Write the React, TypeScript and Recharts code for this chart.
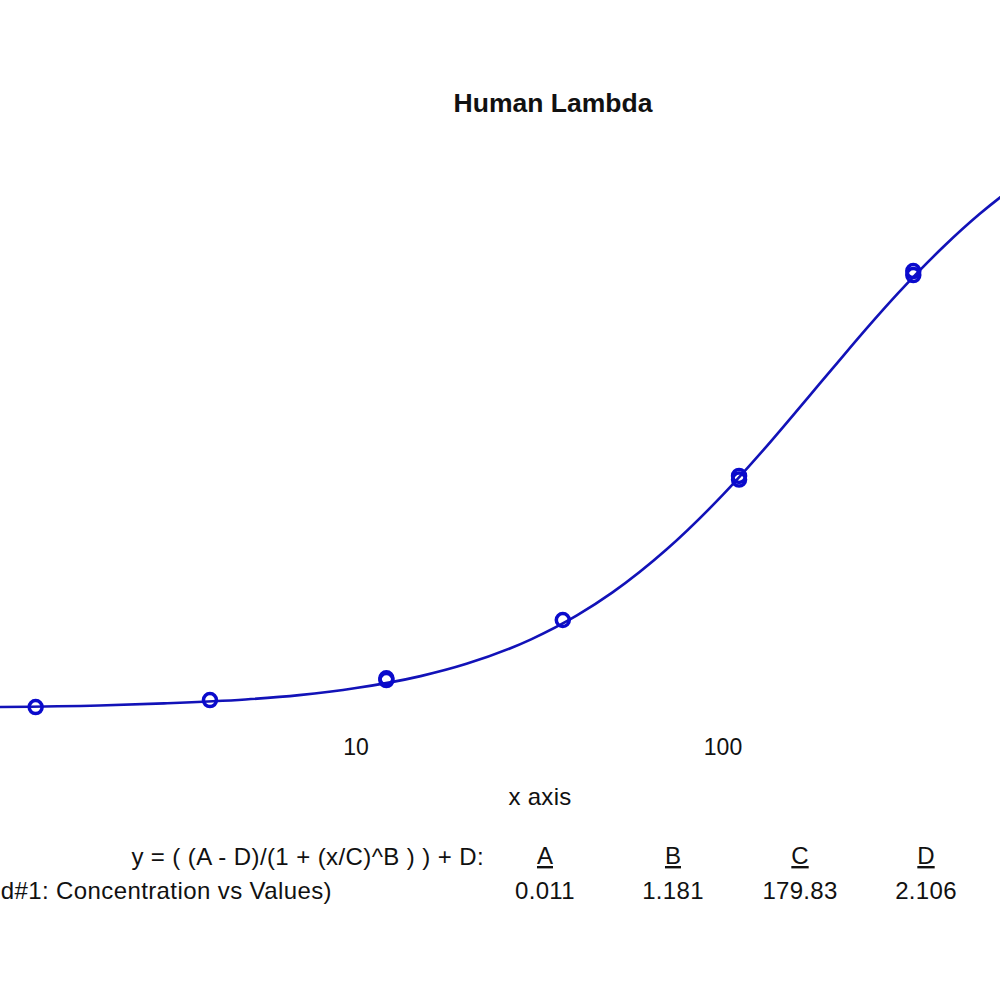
import React from 'react';
import { ComposedChart, Line, Scatter, XAxis, YAxis } from 'recharts';

// standards (3-fold dilution), duplicate readings where two circles overlap
const standardConc = [1.34, 4.0, 12.1, 12.1, 36.6, 110.6, 110.6, 330, 330];
const standardValue = [0.016, 0.039, 0.104, 0.11, 0.3, 0.758, 0.77, 1.425, 1.438];

// fitted 4PL curve
const curveConc = [1, 2, 3, 5, 7, 10, 15, 20, 30, 40, 50, 70, 100, 130, 170, 200, 250, 300, 400, 500, 700, 1000];
const curveValue = [0.016, 0.021, 0.028, 0.041, 0.055, 0.078, 0.117, 0.157, 0.237, 0.315, 0.39, 0.529, 0.709, 0.86, 1.024, 1.124, 1.26, 1.366, 1.519, 1.624, 1.756, 1.862];

const xTicks = [10, 100];
const paramNames = ['A', 'B', 'C', 'D'];
const paramValues = ['0.011', '1.181', '179.83', '2.106'];

const title = 'Human Lambda';
const xLabel = 'x axis';
const formula = 'y = ( (A - D)/(1 + (x/C)^B ) ) + D:';
const seriesName = 'd#1: Concentration vs Values)';

const FONT = '"Liberation Sans", Arial, sans-serif';
const CURVE = '#1212b8';
const MARKER = '#0a0acc';

const curveData = curveConc.map((x, i) => ({ x, y: curveValue[i] }));
const pointData = standardConc.map((x, i) => ({ x, y: standardValue[i] }));

const Ring = (props: any) => (
    <circle cx={props.cx} cy={props.cy} r={6.5} fill="none" stroke={MARKER} strokeWidth={3.5} />
);

export default function App() {
    const paramX = [545, 673, 800, 926];

    return (
        <div style={{ position: 'fixed', left: 0, top: 0, width: 1000, height: 1000, overflow: 'hidden', background: '#fff' }}>
            <div style={{ position: 'absolute', left: -11, top: 0 }}>
                <ComposedChart width={1121} height={1000} margin={{ top: 37.5, right: 20, bottom: 258, left: 0 }}>
                    <XAxis
                        dataKey="x"
                        type="number"
                        scale="log"
                        domain={[1, 1000]}
                        ticks={xTicks}
                        axisLine={false}
                        tickLine={false}
                        tickMargin={21}
                        height={30}
                        tick={{ fill: '#111', fontSize: 23, fontFamily: FONT }}
                    />
                    <YAxis type="number" domain={[0, 2.2]} hide />
                    <Line
                        data={curveData}
                        dataKey="y"
                        type="monotone"
                        stroke={CURVE}
                        strokeWidth={2.6}
                        dot={false}
                        activeDot={false}
                        isAnimationActive={false}
                    />
                    <Scatter data={pointData} dataKey="y" shape={Ring} isAnimationActive={false} />
                </ComposedChart>
            </div>

            {/* titles and fit parameters */}
            <svg width={1000} height={1000} style={{ position: 'absolute', left: 0, top: 0, pointerEvents: 'none' }}>
                <g fontFamily={FONT} fill="#111">
                    <text x={553} y={112} fontSize={26.5} fontWeight="bold" textAnchor="middle">{title}</text>
                    <text x={540} y={805} fontSize={24} letterSpacing={0.3} textAnchor="middle">{xLabel}</text>
                    <text x={484} y={865} fontSize={24} letterSpacing={0.4} textAnchor="end">{formula}</text>
                    <text x={332} y={899} fontSize={24} letterSpacing={0.4} textAnchor="end">{seriesName}</text>
                    {paramNames.map((p, i) => (
                        <text key={p} x={paramX[i]} y={864} fontSize={24} textAnchor="middle" textDecoration="underline">{p}</text>
                    ))}
                    {paramValues.map((v, i) => (
                        <text key={v} x={paramX[i]} y={899} fontSize={24} letterSpacing={0.3} textAnchor="middle">{v}</text>
                    ))}
                </g>
            </svg>
        </div>
    );
}
